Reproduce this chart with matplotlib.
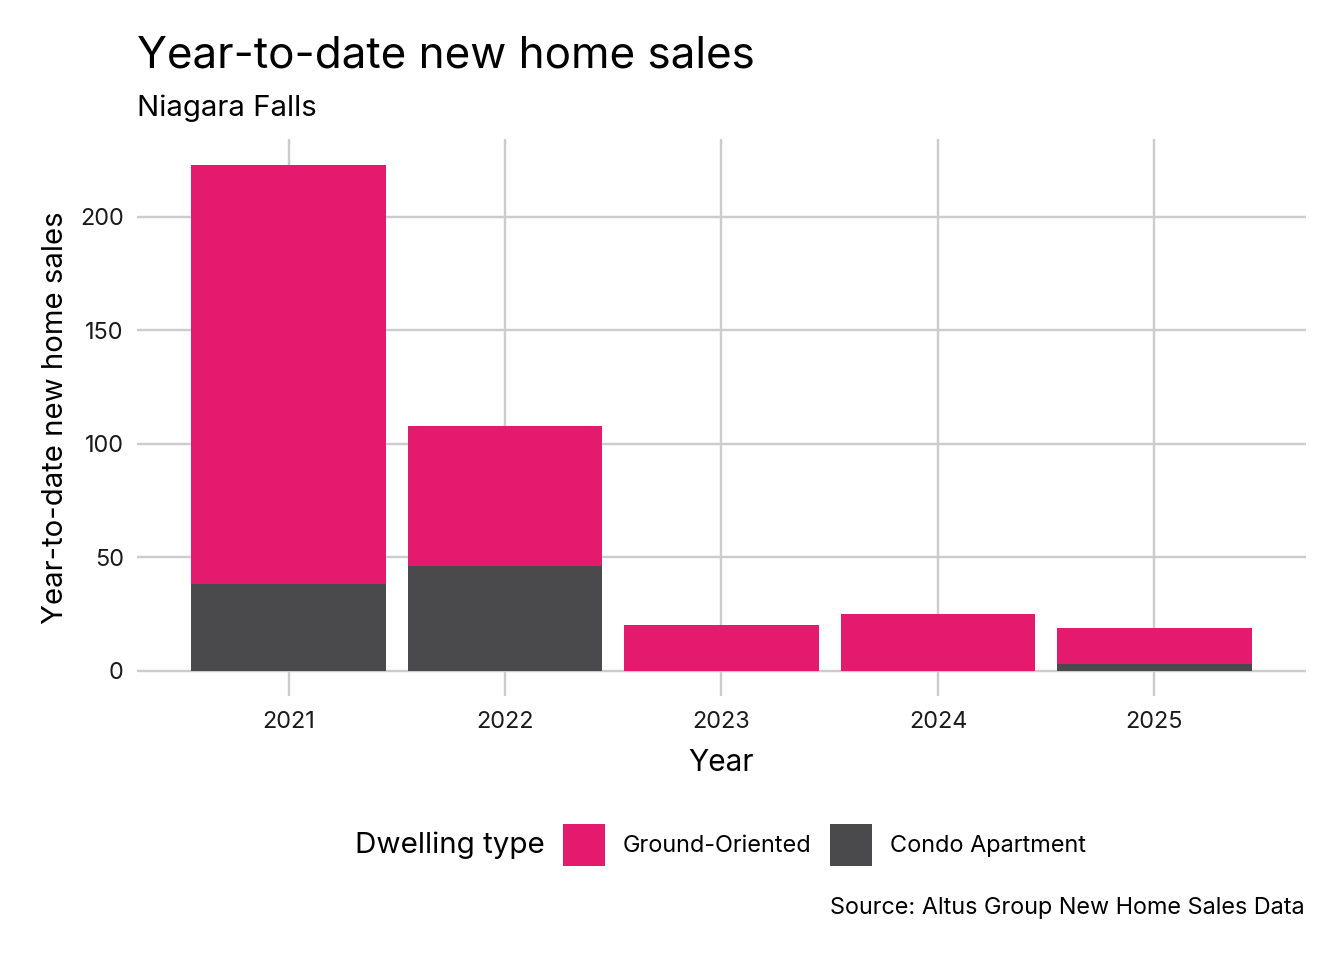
import matplotlib
matplotlib.use("Agg")
import matplotlib.pyplot as plt
from matplotlib.patches import Patch
import numpy as np

# values
years = ["2021", "2022", "2023", "2024", "2025"]
ground_oriented = [185, 62, 20, 25, 16]
condo_apartment = [38, 46, 0, 0, 3]
series_names = ["Ground-Oriented", "Condo Apartment"]
y_ticks = [0, 50, 100, 150, 200]

PINK = "#E31A6E"
GREY = "#4A494C"
GRID = "#CCCCCC"

plt.rcParams['font.family'] = ['Inter', 'DejaVu Sans']

fig = plt.figure(figsize=(7, 5), dpi=192)
ax = fig.add_axes([137 / 1344, 1 - 696 / 960, (1306 - 137) / 1344, (696 - 139.3) / 960])

x = np.arange(1, len(years) + 1)
ax.bar(x, condo_apartment, width=0.9, color=GREY, zorder=2)
ax.bar(x, ground_oriented, width=0.9, bottom=condo_apartment, color=PINK, zorder=2)

total_max = max(np.array(ground_oriented) + np.array(condo_apartment))
ax.set_xlim(0.3, len(years) + 0.7)
ax.set_ylim(-0.05 * total_max, 1.05 * total_max)

ax.set_xticks(x)
ax.set_xticklabels(years)
ax.set_yticks(y_ticks)
ax.grid(True, color=GRID, linewidth=0.9, zorder=0)
for s in ax.spines.values():
    s.set_visible(False)
ax.tick_params(axis='both', length=0, labelsize=8.8, colors="#1a1a1a", pad=5)
ax.tick_params(axis='x', pad=5.8)

ax.set_xlabel("Year", fontsize=11.2, labelpad=6)
ax.set_ylabel("Year-to-date new home sales", fontsize=11, labelpad=4)

fig.text(137 / 1344, 1 - 56 / 960, "Year-to-date new home sales", fontsize=16.5,
         ha='left', va='center')
fig.text(137 / 1344, 1 - 108 / 960, "Niagara Falls", fontsize=11,
         ha='left', va='center')

# legend: title on the left, keys in a row
fig.text(545 / 1344, 1 - 845 / 960, "Dwelling type", fontsize=11.1,
         ha='right', va='center')
handles = [Patch(facecolor=PINK), Patch(facecolor=GREY)]
fig.legend(handles, series_names, ncol=2, loc='center left',
           bbox_to_anchor=(563 / 1344, 1 - 845 / 960), frameon=False,
           fontsize=8.8, handlelength=1.79, handleheight=2.37,
           handletextpad=0.77, columnspacing=0.77, borderpad=0,
           borderaxespad=0)

fig.text(1305 / 1344, 1 - 908 / 960, "Source: Altus Group New Home Sales Data",
         fontsize=8.78, ha='right', va='center')

fig.savefig("out.png", dpi=192, facecolor="white")
